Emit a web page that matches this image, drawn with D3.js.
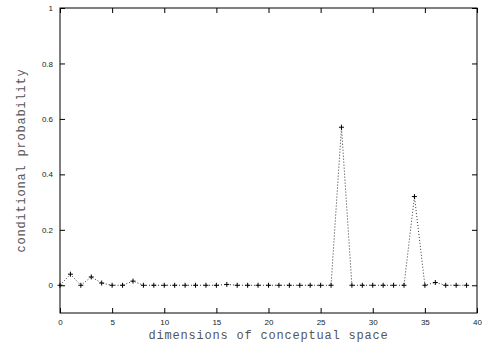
<!DOCTYPE html>
<html>
<head>
<meta charset="utf-8">
<script src="https://cdn.jsdelivr.net/npm/d3@7"></script>
<style>
body { margin: 0; background: #fff; }
.tick text { font-family: "Liberation Sans", Arial, sans-serif; font-size: 8px; fill: #222; }
.label { font-family: "Liberation Mono", "Courier New", monospace; font-size: 12px; letter-spacing: 0.8px; fill: #555; }
</style>
</head>
<body>
<div id="container"></div>
<script>
const WIDTH = 487;
const HEIGHT = 350;
const LEFT = 60, RIGHT = 477, TOP = 8, BOTTOM = 313;

var DIMENSIONS = d3.range(0, 40);
var PROBABILITY = [0, 0.04, 0, 0.03, 0.008, 0, 0, 0.015, 0, 0,
    0, 0, 0, 0, 0, 0, 0.003, 0, 0, 0,
    0, 0, 0, 0, 0, 0, 0, 0.57, 0, 0,
    0, 0, 0, 0, 0.32, 0, 0.01, 0, 0, 0];
var X_TICKS = [0, 5, 10, 15, 20, 25, 30, 35, 40];
var Y_TICKS = [0, 0.2, 0.4, 0.6, 0.8, 1];

var XScale = d3.scaleLinear().domain([0, 40]).range([LEFT, RIGHT]);
var YScale = d3.scaleLinear().domain([-0.1, 1]).range([BOTTOM, TOP]);

var svg = d3.select("#container").append("svg")
    .attr("width", WIDTH)
    .attr("height", HEIGHT);

var axisStyle = function (g) {
    g.select(".domain").remove();
    g.selectAll(".tick line").attr("stroke", "#000");
};

// bottom + top
svg.append("g").attr("transform", "translate(0," + BOTTOM + ")")
    .call(d3.axisBottom(XScale).tickValues(X_TICKS).tickSize(-5).tickPadding(6).tickFormat(d3.format("d")))
    .call(axisStyle);
svg.append("g").attr("transform", "translate(0," + TOP + ")")
    .call(d3.axisTop(XScale).tickValues(X_TICKS).tickSize(-5).tickFormat(""))
    .call(axisStyle);
// left + right
svg.append("g").attr("transform", "translate(" + LEFT + ",0)")
    .call(d3.axisLeft(YScale).tickValues(Y_TICKS).tickSize(-5).tickPadding(7).tickFormat(d3.format("")))
    .call(axisStyle);
svg.append("g").attr("transform", "translate(" + RIGHT + ",0)")
    .call(d3.axisRight(YScale).tickValues(Y_TICKS).tickSize(-5).tickFormat(""))
    .call(axisStyle);

svg.append("rect")
    .attr("x", LEFT).attr("y", TOP)
    .attr("width", RIGHT - LEFT).attr("height", BOTTOM - TOP)
    .attr("fill", "none").attr("stroke", "#000").attr("stroke-width", 1);

var data = DIMENSIONS.map(function (d, i) { return {x: d, y: PROBABILITY[i]}; });

var line = d3.line()
    .x(function (d) { return XScale(d.x); })
    .y(function (d) { return YScale(d.y); });

svg.append("path")
    .datum(data)
    .attr("d", line)
    .attr("fill", "none")
    .attr("stroke", "#333")
    .attr("stroke-width", 1)
    .attr("stroke-dasharray", "1,2");

svg.append("g").selectAll("path.pt").data(data)
    .enter().append("path")
    .attr("class", "pt")
    .attr("d", function (d) {
        var x = XScale(d.x), y = YScale(d.y);
        return "M" + (x - 2.5) + "," + y + "H" + (x + 2.5) + "M" + x + "," + (y - 2.5) + "V" + (y + 2.5);
    })
    .attr("stroke", "#000")
    .attr("stroke-width", 1);

svg.append("text").attr("class", "label")
    .attr("x", (LEFT + RIGHT) / 2).attr("y", 339)
    .attr("text-anchor", "middle")
    .text("dimensions of conceptual space");

svg.append("text").attr("class", "label")
    .attr("transform", "translate(21," + ((TOP + BOTTOM) / 2) + ") rotate(-90)")
    .attr("text-anchor", "middle")
    .attr("dy", "0.35em")
    .text("conditional probability");
</script>
</body>
</html>
